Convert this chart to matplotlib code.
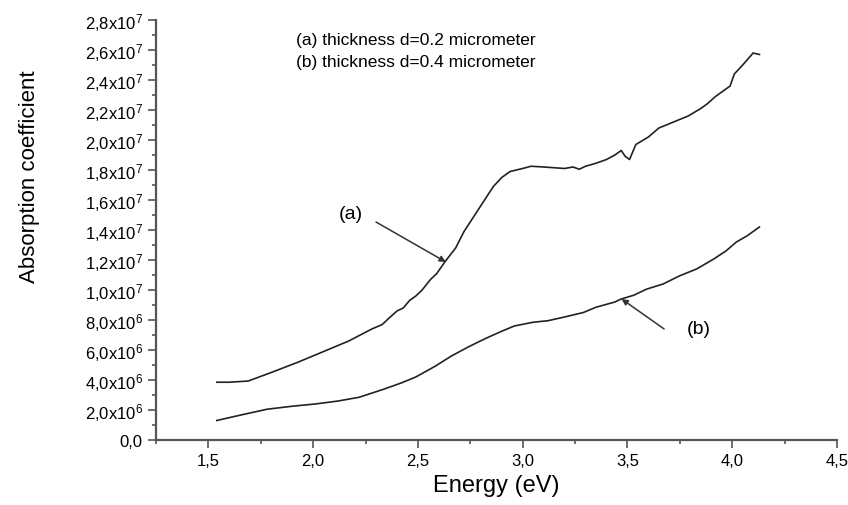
import numpy as np
import matplotlib.pyplot as plt
from matplotlib.ticker import MultipleLocator, FuncFormatter

plt.rcParams['font.family'] = ['Liberation Sans', 'DejaVu Sans']
plt.rcParams['mathtext.default'] = 'regular'

# curve (a), thickness 0.2 micrometer (values in units of 1e6)
energy_a = [1.54, 1.60, 1.69, 1.80, 1.93, 2.05, 2.17, 2.28, 2.33, 2.36, 2.40, 2.43,
            2.46, 2.49, 2.52, 2.56, 2.59, 2.63, 2.68, 2.72, 2.79, 2.86, 2.90, 2.94,
            3.00, 3.04, 3.10, 3.20, 3.24, 3.27, 3.30, 3.35, 3.40, 3.44, 3.47, 3.49,
            3.51, 3.54, 3.60, 3.65, 3.72, 3.79, 3.85, 3.88, 3.92, 3.96, 3.99, 4.01,
            4.05, 4.10, 4.13]
alpha_a = [3.85, 3.85, 3.93, 4.5, 5.2, 5.9, 6.6, 7.4, 7.7, 8.1, 8.6, 8.8,
           9.3, 9.6, 10.0, 10.7, 11.1, 11.9, 12.8, 13.9, 15.4, 16.9, 17.5, 17.9,
           18.1, 18.25, 18.2, 18.1, 18.2, 18.05, 18.25, 18.45, 18.7, 19.0, 19.3, 18.9,
           18.7, 19.7, 20.2, 20.8, 21.2, 21.6, 22.1, 22.4, 22.9, 23.3, 23.6, 24.4,
           25.0, 25.8, 25.7]

# curve (b), thickness 0.4 micrometer
energy_b = [1.54, 1.65, 1.78, 1.90, 2.01, 2.12, 2.22, 2.34, 2.42, 2.49, 2.58, 2.66,
            2.74, 2.82, 2.90, 2.96, 3.05, 3.12, 3.20, 3.29, 3.35, 3.44, 3.47, 3.53,
            3.59, 3.67, 3.75, 3.83, 3.91, 3.97, 4.02, 4.07, 4.13]
alpha_b = [1.3, 1.65, 2.05, 2.25, 2.4, 2.6, 2.85, 3.4, 3.8, 4.2, 4.9, 5.6,
           6.2, 6.75, 7.25, 7.6, 7.85, 7.95, 8.2, 8.5, 8.85, 9.2, 9.4, 9.65,
           10.05, 10.4, 10.95, 11.4, 12.05, 12.6, 13.2, 13.6, 14.2]

x_ticks = [1.5, 2.0, 2.5, 3.0, 3.5, 4.0, 4.5]


def y_fmt(v, pos):
    if v == 0:
        return '0,0'
    exp = 7 if v >= 1e7 else 6
    mant = ('%.1f' % (v / 10 ** exp)).replace('.', ',')
    return mant + r'x10$^{%d}$' % exp


fig = plt.figure(figsize=(8.48, 5.06), dpi=100)
ax = fig.add_axes([0.184, 0.1285, 0.803, 0.83])

ax.plot(energy_a, np.array(alpha_a) * 1e6, color='#222222', lw=1.2)
ax.plot(energy_b, np.array(alpha_b) * 1e6, color='#222222', lw=1.2)

ax.set_xlim(1.25, 4.5)
ax.set_ylim(0, 2.8e7)
ax.set_xticks(x_ticks)
ax.set_xticklabels([('%.1f' % t).replace('.', ',') for t in x_ticks])
ax.xaxis.set_minor_locator(MultipleLocator(0.25))
ax.yaxis.set_major_locator(MultipleLocator(2e6))
ax.yaxis.set_minor_locator(MultipleLocator(1e6))
ax.yaxis.set_major_formatter(FuncFormatter(y_fmt))
ax.tick_params(which='major', direction='out', length=6, width=1.2, labelsize=12,
               color='#555555')
ax.tick_params(which='minor', direction='out', length=3, width=1.2, color='#555555')

for s in ['top', 'right']:
    ax.spines[s].set_visible(False)
for s in ['left', 'bottom']:
    ax.spines[s].set_linewidth(1.6)
    ax.spines[s].set_color('#555555')

ax.set_xlabel('Energy (eV)', fontsize=17, labelpad=4)
ax.set_ylabel('Absorption coefficient', fontsize=16)
ax.yaxis.set_label_coords(-0.17, 0.63)

ax.text(1.92, 2.67e7, '(a) thickness d=0.2 micrometer', fontsize=12.5, va='center')
ax.text(1.92, 2.525e7, '(b) thickness d=0.4 micrometer', fontsize=12.5, va='center')

arrow = dict(arrowstyle='-|>', color='#333333', lw=1.1, mutation_scale=9,
             shrinkA=0, shrinkB=0)
ax.annotate('', xy=(2.633, 1.187e7), xytext=(2.30, 1.453e7), arrowprops=arrow)
ax.text(2.178, 1.51e7, '(a)', fontsize=14, ha='center', va='center')
ax.annotate('', xy=(3.472, 9.4e6), xytext=(3.675, 7.4e6), arrowprops=arrow)
ax.text(3.84, 7.4e6, '(b)', fontsize=14, ha='center', va='center')

fig.savefig('out.png', dpi=100)
